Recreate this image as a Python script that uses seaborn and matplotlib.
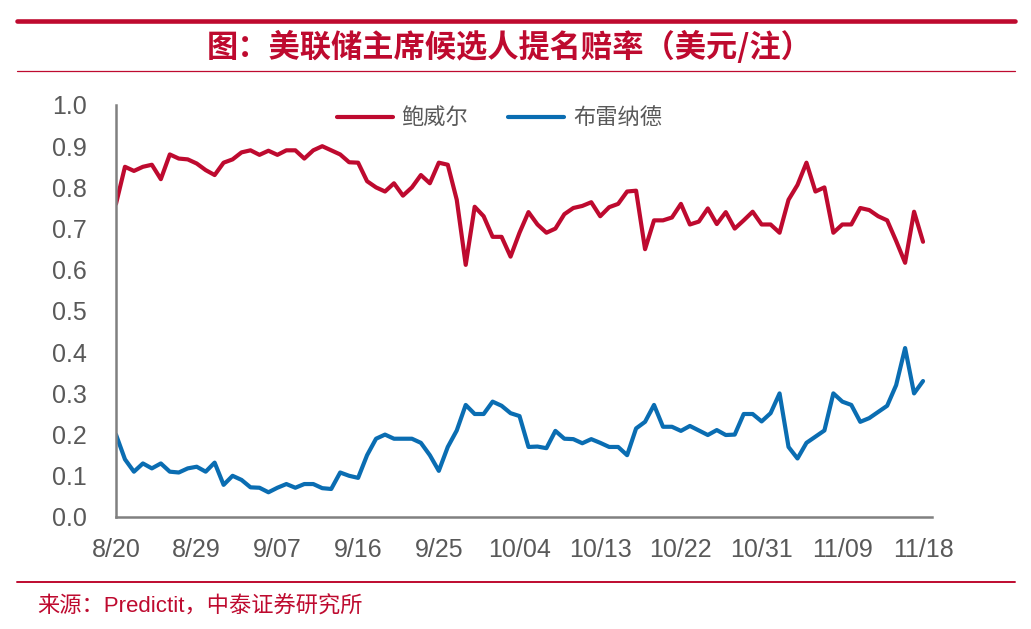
import numpy as np
import pandas as pd
import matplotlib
matplotlib.use("Agg")
import matplotlib.pyplot as plt
from matplotlib.lines import Line2D
import seaborn as sns

# ---- data ----
powell = [0.76, 0.85, 0.84, 0.85, 0.855, 0.82, 0.88, 0.87, 0.868, 0.858,
          0.842, 0.83, 0.86, 0.868, 0.885, 0.89, 0.879, 0.889, 0.879, 0.89,
          0.89, 0.87, 0.89, 0.90, 0.89, 0.88, 0.861, 0.86, 0.815, 0.80,
          0.79, 0.81, 0.78, 0.80, 0.83, 0.81, 0.86, 0.855, 0.77, 0.612,
          0.753, 0.73, 0.68, 0.68, 0.632, 0.69, 0.74, 0.71, 0.69, 0.70,
          0.735, 0.75, 0.755, 0.764, 0.73, 0.752, 0.76, 0.79, 0.792, 0.65,
          0.72, 0.72, 0.727, 0.76, 0.71, 0.717, 0.749, 0.711, 0.74, 0.70,
          0.72, 0.741, 0.71, 0.71, 0.69, 0.77, 0.806, 0.86, 0.79, 0.80,
          0.69, 0.71, 0.71, 0.75, 0.745, 0.73, 0.72, 0.67, 0.617, 0.741,
          0.668]
brainard = [0.20, 0.14, 0.11, 0.13, 0.118, 0.13, 0.11, 0.108, 0.118, 0.122,
            0.11, 0.132, 0.078, 0.10, 0.09, 0.072, 0.071, 0.06, 0.071, 0.08,
            0.071, 0.08, 0.08, 0.07, 0.068, 0.108, 0.10, 0.095, 0.15, 0.19,
            0.20, 0.19, 0.19, 0.19, 0.18, 0.15, 0.112, 0.17, 0.21, 0.272,
            0.25, 0.25, 0.28, 0.27, 0.252, 0.245, 0.17, 0.171, 0.167, 0.209,
            0.19, 0.189, 0.179, 0.189, 0.18, 0.17, 0.17, 0.15, 0.215, 0.231,
            0.272, 0.219, 0.219, 0.209, 0.221, 0.21, 0.199, 0.211, 0.199, 0.20,
            0.25, 0.25, 0.232, 0.252, 0.30, 0.17, 0.142, 0.18, 0.195, 0.21,
            0.30, 0.28, 0.272, 0.231, 0.24, 0.255, 0.27, 0.32, 0.41, 0.30,
            0.33]
series_names = ["鲍威尔", "布雷纳德"]
tick_labels = ["8/20", "8/29", "9/07", "9/16", "9/25", "10/04",
               "10/13", "10/22", "10/31", "11/09", "11/18"]
title_text = "图：美联储主席候选人提名赔率（美元/注）"
source_text = "来源：Predictit，中泰证券研究所"

days = np.arange(len(powell))
df = pd.concat([
    pd.DataFrame({"day": days, "value": powell, "name": series_names[0]}),
    pd.DataFrame({"day": days, "value": brainard, "name": series_names[1]}),
])

RED = "#BE0A2F"
BLUE = "#0A6DB2"
GRAY = "#808080"
TXT = "#595959"

sns.set_theme(style="white")
plt.rcParams["font.family"] = ["Liberation Sans", "Noto Sans CJK SC", "DejaVu Sans"]

W, H = 1031, 629
fig = plt.figure(figsize=(W / 100, H / 100), dpi=100)
fig.patch.set_facecolor("white")
ax = fig.add_axes([116 / W, 1 - 517 / H, (932 - 116) / W, (517 - 105) / H])

sns.lineplot(data=df, x="day", y="value", hue="name",
             palette={series_names[0]: RED, series_names[1]: BLUE},
             linewidth=3.0, ax=ax, legend=True)
for ln in ax.get_lines():
    ln.set_solid_joinstyle("round")
    ln.set_solid_capstyle("round")

ax.set_xlim(0, 91)
ax.set_ylim(0, 1.0)
ax.set_xticks(np.arange(0, 91, 9))
ax.set_xticklabels(tick_labels)
yt = np.round(np.arange(0, 1.01, 0.1), 1)
ax.set_yticks(yt)
ax.set_yticklabels([f"{v:.1f}" for v in yt])
ax.set_xlabel("")
ax.set_ylabel("")

for s in ["top", "right"]:
    ax.spines[s].set_visible(False)
for s in ["left", "bottom"]:
    ax.spines[s].set_color(GRAY)
    ax.spines[s].set_linewidth(1.8)
ax.tick_params(axis="both", which="major", direction="out", length=6,
               width=1.6, color=GRAY, labelsize=18, labelcolor=TXT)
ax.tick_params(axis="y", pad=15)
ax.tick_params(axis="x", pad=9)
ax.set_facecolor("white")

handles, labels = ax.get_legend_handles_labels()
leg = ax.legend(handles, labels, loc="upper center", bbox_to_anchor=(0.47, 1.045),
                ncol=2, frameon=False, handlelength=2.5, handletextpad=0.4,
                columnspacing=1.8,
                prop={"family": ["Noto Sans CJK SC"], "size": 16})
for t in leg.get_texts():
    t.set_color(TXT)
for lh in leg.get_lines():
    lh.set_linewidth(3.0)

# decorative rules
fig.add_artist(Line2D([17 / W, 1015 / W], [1 - 21 / H, 1 - 21 / H],
                      color=RED, linewidth=3.3, transform=fig.transFigure))
fig.add_artist(Line2D([17 / W, 1015 / W], [1 - 70.5 / H, 1 - 70.5 / H],
                      color=RED, linewidth=0.9, transform=fig.transFigure))
fig.add_artist(Line2D([17 / W, 1015 / W], [1 - 582 / H, 1 - 582 / H],
                      color=RED, linewidth=1.4, transform=fig.transFigure))

fig.text(510 / W, 1 - 47 / H, title_text, ha="center", va="center",
         fontsize=22.5, fontweight="bold", color=RED,
         family=["Noto Sans CJK SC", "DejaVu Sans"])
fig.text(37 / W, 1 - 607 / H, source_text, ha="left", va="center",
         fontsize=16, color=RED,
         family=["Liberation Sans", "Noto Sans CJK SC", "DejaVu Sans"])

fig.savefig("out.png", dpi=100, facecolor="white")
